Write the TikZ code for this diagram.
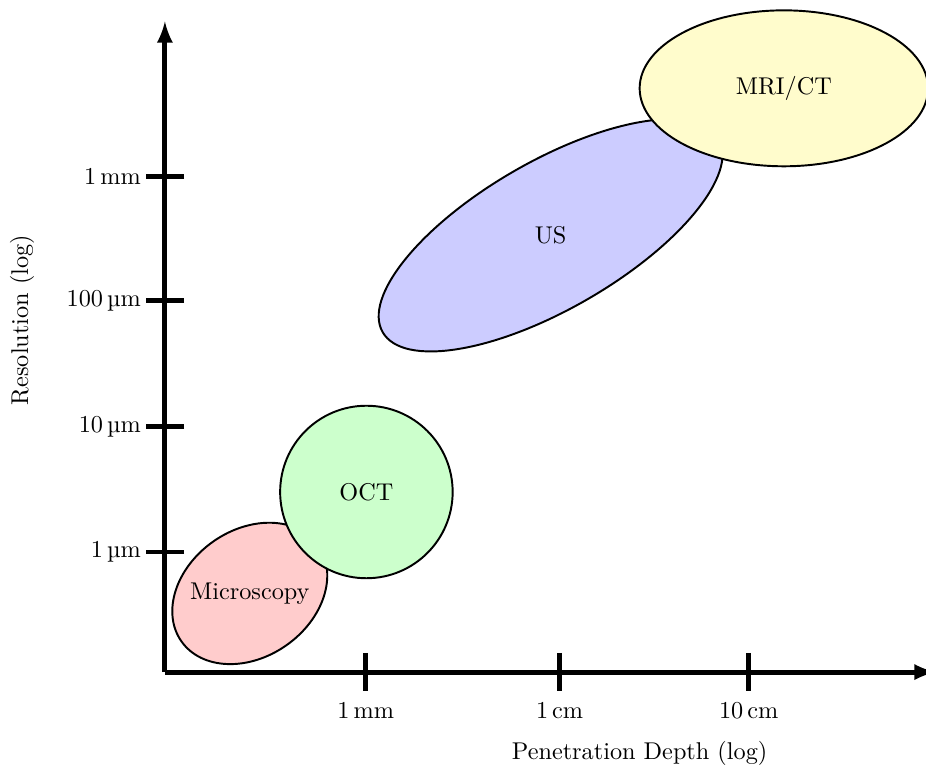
\documentclass[tikz,border=0pt]{standalone}
\usetikzlibrary{positioning}

\begin{document}
\begin{tikzpicture}[axis/.style={line width=2pt,-latex},tickmark/.style={line width=2pt},
blob/.style={draw=black, thick}]
\useasboundingbox (-2.39,-1.45) rectangle (11.03,9.74);
\coordinate (o) at (0,0);
\coordinate (xmax) at (11.17,0);
\coordinate (ymax) at (0,9.43);
\coordinate (micc) at (1.23,1.14);
\coordinate (octc) at (2.92,2.61);
\coordinate (usc) at (5.59,6.33);
\coordinate (mric) at (8.97,8.46);
% regions
\draw[blob, fill=red!20, rotate around={35:(micc)}] (micc) ellipse (1.21 and 0.92);
\node (mic) at (micc) {Microscopy};
\draw[blob, fill=green!20] (octc) circle (1.25);
\node (oct) at (octc) {OCT};
\draw[blob, fill=blue!20, rotate around={30:(usc)}] (usc) ellipse (2.81 and 1.07);
\node (us) at (usc) {US};
\draw[blob, fill=yellow!20] (mric) ellipse (2.09 and 1.13);
\node (mri) at (mric) {MRI/CT};
% axes
\draw[axis] (o) -- (xmax);
\draw[axis] (o) -- (ymax);
\foreach \x/\t [count=\i] in {2.91/1\,mm, 5.72/1\,cm, 8.46/10\,cm}
   \draw[tickmark] (\x,0.28) -- (\x,-0.28) node[below=0mm] (xt\i) {\t};
\foreach \y/\t [count=\i] in {1.74/1\,µm, 3.56/10\,µm, 5.38/100\,µm, 7.18/1\,mm}
   \draw[tickmark] (0.28,\y) -- (-0.28,\y) node[left, inner sep=1pt] (yt\i) {\t};
\node[rotate=90] (ylab) at (-2.07,5.10) {Resolution (log)};
\node (xlab) at (6.88,-1.18) {Penetration Depth (log)};
\end{tikzpicture}
\end{document}
